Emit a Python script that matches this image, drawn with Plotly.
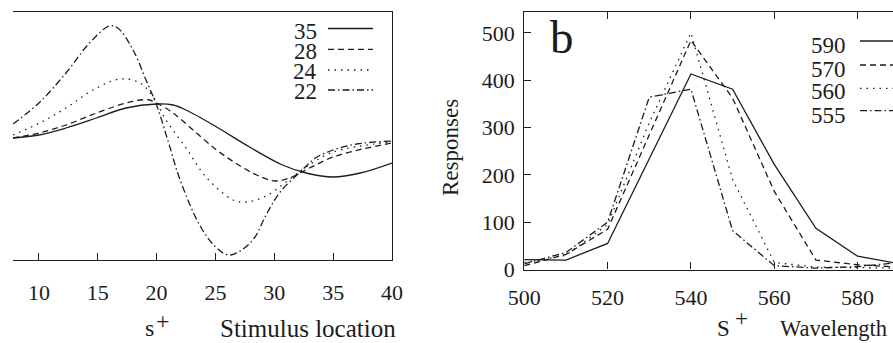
import plotly.graph_objects as go

# ---------------- Panel a : response vs stimulus location ----------------
a_x35 = [7.8, 10, 12.3, 14.9, 17.4, 20, 21.4, 22.5, 25.1, 27.9, 30.7, 32.7, 35, 37.3, 40]
a_y35 = [-0.01, 0.02, 0.09, 0.19, 0.29, 0.33, 0.32, 0.27, 0.10, -0.10, -0.28, -0.36, -0.40, -0.36, -0.26]

a_x28 = [7.8, 10, 12.3, 14.9, 17.4, 18.6, 19.4, 20, 21.4, 23.1, 25.1, 26.7, 28.5, 30.1, 31.5, 33, 35, 37.5, 40]
a_y28 = [-0.01, 0.04, 0.12, 0.24, 0.34, 0.37, 0.37, 0.34, 0.24, 0.07, -0.13, -0.26, -0.38, -0.44, -0.40, -0.31, -0.20, -0.12, -0.06]

a_x24 = [7.8, 10.06, 12.3, 14.6, 16.9, 18.6, 19.7, 20.8, 22.5, 24.2, 26.5, 27.6, 29.3, 31.0, 32.7, 35, 40]
a_y24 = [0.02, 0.14, 0.29, 0.47, 0.58, 0.54, 0.40, 0.17, -0.11, -0.40, -0.63, -0.65, -0.59, -0.45, -0.30, -0.15, -0.05]

a_x22 = [7.8, 10, 12.3, 14.3, 16, 16.7, 18, 19.1, 20, 21, 22, 23.7, 25.1, 26.1, 27.1, 28.3, 29.3, 30.5, 32.2, 33.5, 35, 37, 40]
a_y22 = [0.13, 0.34, 0.64, 0.94, 1.11, 1.09, 0.87, 0.57, 0.32, -0.05, -0.43, -0.89, -1.11, -1.18, -1.14, -1.01, -0.78, -0.55, -0.35, -0.21, -0.13, -0.07, -0.04]

a_ticks = [10, 15, 20, 25, 30, 35, 40]
a_labels = ["35", "28", "24", "22"]

# ---------------- Panel b : responses vs wavelength ----------------
wavelength = [500, 510, 520, 530, 540, 550, 560, 570, 580, 590]
resp_590 = [21, 20, 55, 233, 413, 381, 222, 87, 28, 12]
resp_570 = [8, 32, 85, 285, 484, 362, 165, 20, 10, 5]
resp_560 = [15, 30, 95, 310, 500, 190, 15, 5, 4, 3]
resp_555 = [12, 36, 100, 364, 381, 82, 8, 3, 6, 15]

b_xticks = [500, 520, 540, 560, 580]
b_yticks = [0, 100, 200, 300, 400, 500]
b_labels = ["590", "570", "560", "555"]

# ---------------- styling ----------------
W, H = 893, 343
INK = "#1c1c1c"
FONT = "'Liberation Serif', 'Times New Roman', Times, serif"
LW = 1.3
DASHES = ["solid", "6px,4px", "1.5px,5px", "7px,3px,1.5px,3px"]

def px(x):
    return x / W

def py(y):
    return 1 - y / H

fig = go.Figure()

for xs, ys, d in zip([a_x35, a_x28, a_x24, a_x22], [a_y35, a_y28, a_y24, a_y22], DASHES):
    fig.add_trace(go.Scatter(x=xs, y=ys, mode="lines", xaxis="x", yaxis="y",
                             line=dict(color=INK, width=LW, dash=d, shape="spline", smoothing=1.0),
                             showlegend=False, hoverinfo="skip"))

for ys, d in zip([resp_590, resp_570, resp_560, resp_555], DASHES):
    fig.add_trace(go.Scatter(x=wavelength, y=ys, mode="lines", xaxis="x2", yaxis="y2",
                             line=dict(color=INK, width=LW, dash=d),
                             showlegend=False, hoverinfo="skip", cliponaxis=True))

tickfont = dict(family=FONT, size=22, color=INK)

fig.update_layout(
    template="none",
    width=W, height=H,
    margin=dict(l=0, r=0, t=0, b=0),
    paper_bgcolor="white", plot_bgcolor="white",
    showlegend=False,
    xaxis=dict(domain=[px(13), px(392)], range=[7.8, 40], tickvals=a_ticks,
               ticks="inside", ticklen=7, tickcolor=INK, tickwidth=1.2,
               showline=True, linecolor=INK, linewidth=1.3, mirror=True,
               showgrid=False, zeroline=False, tickfont=tickfont,
               ticklabelstandoff=12, anchor="y", automargin=False),
    yaxis=dict(domain=[py(260), py(12)], range=[-1.23, 1.25], side="right",
               showline=True, linecolor=INK, linewidth=1.3, ticks="",
               showticklabels=False, showgrid=False, zeroline=False,
               anchor="x", automargin=False),
    xaxis2=dict(domain=[px(524.3), 1.0], range=[500, 588.5], tickvals=b_xticks,
                ticks="inside", ticklen=7, tickcolor=INK, tickwidth=1.2,
                showline=True, linecolor=INK, linewidth=1.3, mirror="ticks",
                showgrid=False, zeroline=False, tickfont=tickfont,
                ticklabelstandoff=8, anchor="y2", automargin=False),
    yaxis2=dict(domain=[py(269.5), py(12)], range=[0, 544], tickvals=b_yticks,
                ticks="inside", ticklen=7, tickcolor=INK, tickwidth=1.2,
                showline=True, linecolor=INK, linewidth=1.3,
                showgrid=False, zeroline=False, tickfont=tickfont,
                ticklabelstandoff=4, anchor="x2", automargin=False),
)

ann = []
def text(t, x, y, size, xanchor="center", angle=0):
    ann.append(dict(text=t, x=px(x), y=py(y), xref="paper", yref="paper",
                    xanchor=xanchor, yanchor="middle", showarrow=False, textangle=angle,
                    font=dict(family=FONT, size=size, color=INK)))

# axis titles
text("s", 149, 328, 24)
text("+", 162.5, 321, 24)
text("Stimulus location", 218, 328, 25, xanchor="left")
text("S", 723.5, 328, 23)
text("+", 741, 318, 23)
text("Wavelength", 778, 328, 22.5, xanchor="left")
text("Responses", 450, 148, 23, angle=-90)
text("b", 561.5, 37, 47)

# legend panel a
shapes = []
a_text_y = [31.7, 51.7, 71.7, 91.7]
a_line_y = [28.5, 49.3, 70, 90]
for lab, ty, ly, d in zip(a_labels, a_text_y, a_line_y, DASHES):
    text(lab, 319, ty, 23, xanchor="right")
    shapes.append(dict(type="line", xref="paper", yref="paper", x0=px(328), x1=px(373),
                       y0=py(ly), y1=py(ly), line=dict(color=INK, width=LW, dash=d)))

# legend panel b
b_text_y = [46, 69.3, 91.7, 115]
b_line_y = [41, 65, 88.3, 110.7]
for lab, ty, ly, d in zip(b_labels, b_text_y, b_line_y, DASHES):
    text(lab, 848, ty, 23, xanchor="right")
    shapes.append(dict(type="line", xref="paper", yref="paper", x0=px(860), x1=px(900),
                       y0=py(ly), y1=py(ly), line=dict(color=INK, width=LW, dash=d)))

fig.update_layout(annotations=ann, shapes=shapes)
fig.write_html("out.html")
